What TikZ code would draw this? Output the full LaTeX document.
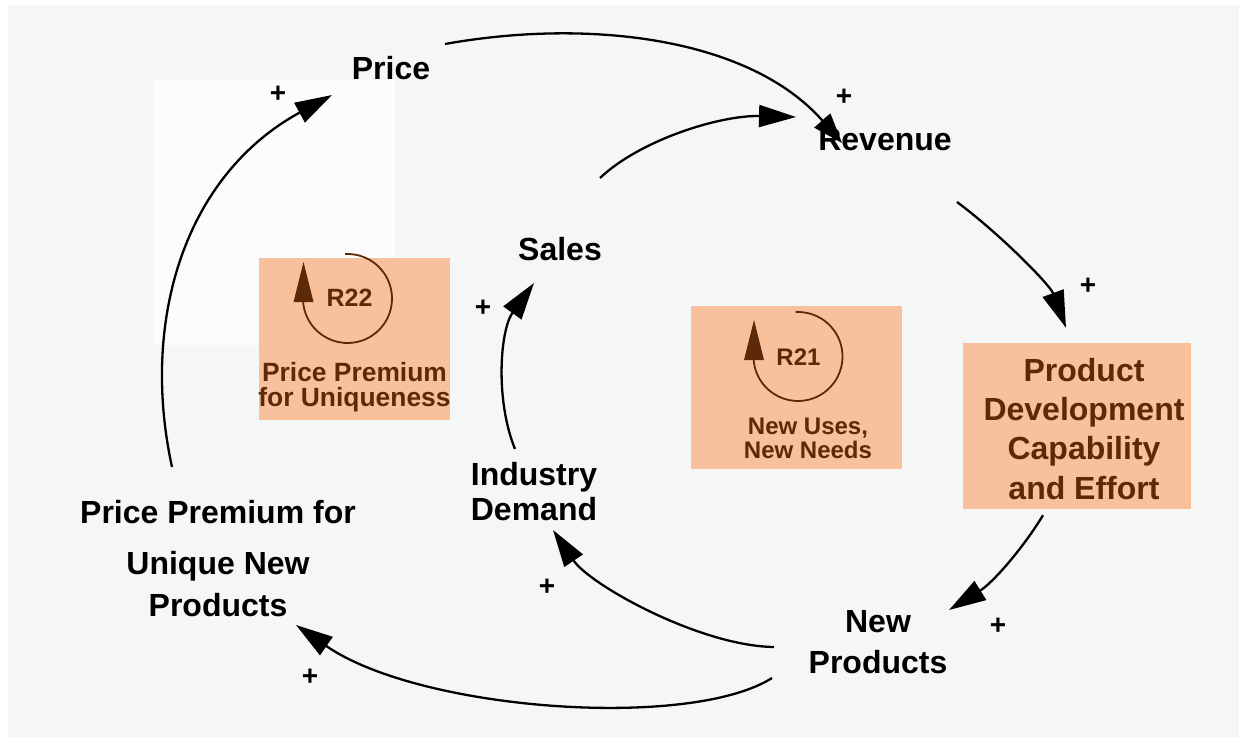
\documentclass[tikz,border=0pt]{standalone}
\usepackage{fontspec}
\setmainfont{Liberation Sans}
\usetikzlibrary{arrows.meta,calc}
\definecolor{bggray}{HTML}{F5F7F7}
\definecolor{patch}{HTML}{FCFCFC}
\definecolor{salmon}{HTML}{F9C19B}
\definecolor{dbrown}{HTML}{5C2A08}
\begin{document}
\begin{tikzpicture}[x=1pt,y=-1pt,
  lbl/.style={font=\fontsize{32}{38}\selectfont\bfseries, inner sep=0pt, align=center, text=black},
  boxfill/.style={fill=salmon, draw=none, inner sep=0pt},
  boxtext/.style={font=\fontsize{32}{39.3}\selectfont\bfseries, inner sep=0pt, align=center, text=dbrown},
  looptext/.style={font=\fontsize{26.4}{25}\selectfont\bfseries, inner sep=0pt, align=center, text=dbrown},
  rlabel/.style={font=\fontsize{25}{25}\selectfont\bfseries, inner sep=0pt, text=dbrown},
  plus/.style={font=\fontsize{28}{28}\selectfont\bfseries, inner sep=0pt, text=black},
  link/.style={line width=2.3pt, draw=black, -{Triangle[length=37pt,width=22pt]}},
  loopsym/.pic={
    \draw[dbrown, line width=1.8pt] (93:44.5pt) arc[start angle=93, end angle=-180, radius=44.5pt];
    \fill[dbrown] (-54pt,-3.5pt) -- (-44pt,36.5pt) -- (-34pt,-3.5pt) -- cycle;
  }
]
\useasboundingbox (0,0) rectangle (1239,737);
\fill[bggray] (8,5) rectangle (1239,737);
\fill[patch] (154,80) rectangle (395,345);

% highlighted boxes
\node[boxfill, minimum width=228pt, minimum height=166pt] (pdbox) at (1077,426) {};
\node[boxfill, minimum width=191pt, minimum height=162pt] (r22box) at (354.5,339) {};
\node[boxfill, minimum width=211pt, minimum height=163pt] (r21box) at (796.5,387.5) {};

% loop symbols
\pic at (347.5,298.5) {loopsym};
\node[rlabel] (r22) at (349.5,298) {R22};
\node[looptext, anchor=north] (r22lbl) at (354.5,362) {Price Premium\\for Uniqueness};
\pic at (798,356.5) {loopsym};
\node[rlabel, font=\fontsize{24}{24}\selectfont\bfseries] (r21) at (798.5,357.5) {R21};
\node[looptext, font=\fontsize{24}{24}\selectfont\bfseries, anchor=north] (r21lbl) at (808,418) {New Uses,\\New Needs};

% variables
\node[lbl] (price) at (391,68.5) {Price};
\node[lbl] (revenue) at (885,140) {Revenue};
\node[lbl] (sales) at (560,249) {Sales};
\node[lbl, font=\fontsize{32}{35.5}\selectfont\bfseries, anchor=north] (industry) at (534,462) {Industry\\Demand};
\node[lbl, font=\fontsize{32}{41}\selectfont\bfseries, anchor=north] (newprod) at (878,610) {New\\Products};
\node[lbl, font=\fontsize{32}{42}\selectfont\bfseries, anchor=north] (premium) at (218,500) {Price Premium for\\[9pt]Unique New\\Products};
\node[boxtext, anchor=north] (proddev) at (1084,358) {Product\\Development\\Capability\\and Effort};

% links
\draw[line width=2.3pt, -{Triangle[length=30pt,width=21pt]}] ($(price)+(54,-24.5)$) .. controls +(145,-26) and +(-92,-105) .. ($(revenue)+(-43,3)$);
\draw[link] ($(sales)+(40,-71)$) .. controls +(40,-38) and +(-76,-2) .. ($(revenue)+(-89,-23)$);
\draw[link] ($(revenue)+(72,62)$) .. controls +(43,32) and +(-16,-43) .. ($(pdbox.north)+(-11,-15)$);
\draw[link] ($(pdbox.south)+(-34,6)$) .. controls +(-18,30) and +(45,-28) .. ($(newprod.north)+(71,0)$);
\draw[link] ($(newprod.north)+(-104,37)$) .. controls +(-74,-1) and +(37,55) .. ($(industry.north)+(19,68)$);
\draw[link] ($(newprod.north)+(-106,68)$) .. controls +(-82,52) and +(124,86) .. ($(premium.north)+(78,125)$);
\draw[link] ($(premium.north)+(-46,-33)$) .. controls +(-32,-147) and +(-147,80) .. ($(price)+(-59,26.5)$);
\draw[link] ($(industry.north)+(-19,-13)$) .. controls +(-20,-49) and +(-34,47) .. ($(sales)+(-26,34)$);

% polarities
\node[plus] (p1) at (278,94) {+};
\node[plus] (p2) at (844,97) {+};
\node[plus] (p3) at (1088,286) {+};
\node[plus] (p4) at (483,308) {+};
\node[plus] (p5) at (547,587) {+};
\node[plus] (p6) at (998,626) {+};
\node[plus] (p7) at (310,677) {+};
\end{tikzpicture}
\end{document}
